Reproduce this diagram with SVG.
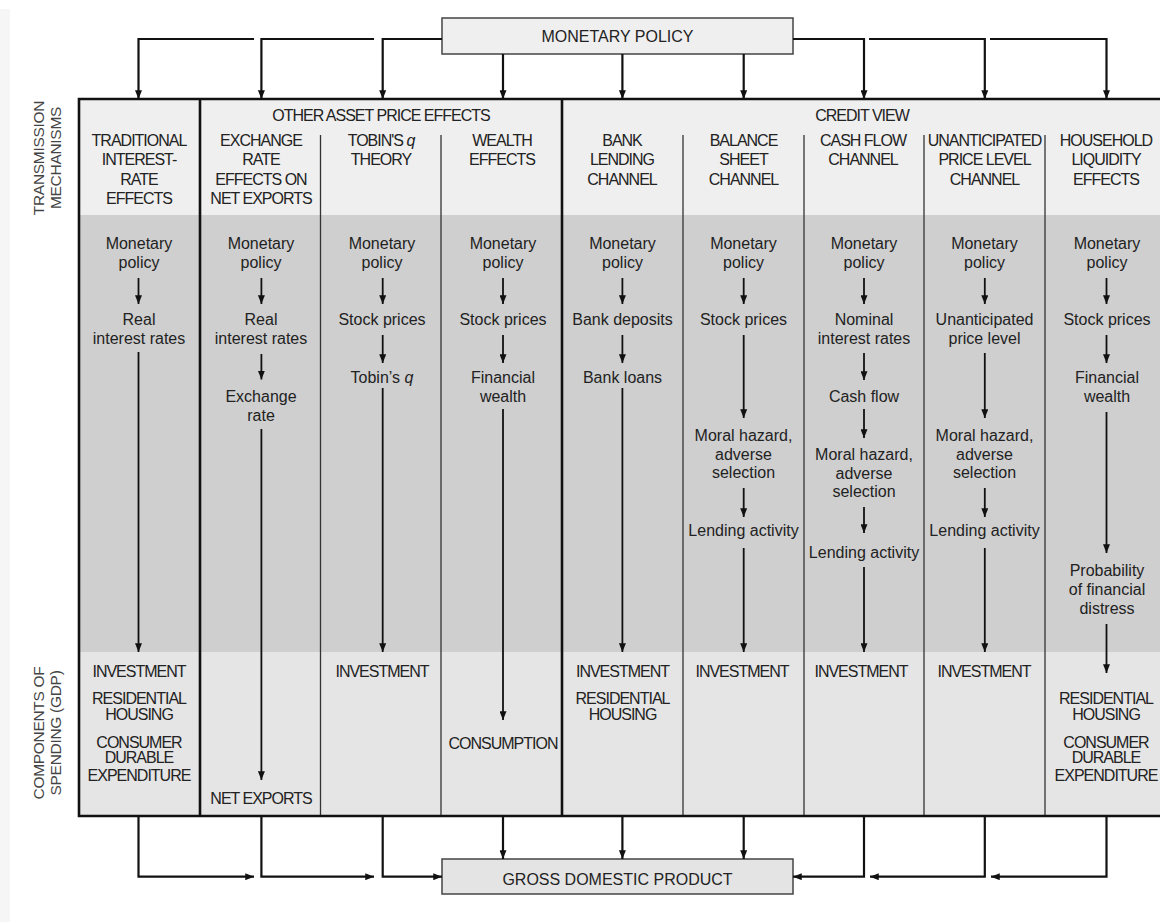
<svg xmlns="http://www.w3.org/2000/svg" width="1160" height="922" viewBox="0 0 1160 922">
<style>
text{font-family:"Liberation Sans",Arial,sans-serif;fill:#222;text-anchor:middle}
.cap{font-size:16px;letter-spacing:-1px}
.low{font-size:16px}
.box{font-size:16px}
.side{font-size:15.5px;fill:#444;letter-spacing:-0.3px}
.conn{fill:none;stroke:#111;stroke-width:2.2}
.step{fill:none;stroke:#111;stroke-width:1.8}
.thin{stroke:#333;stroke-width:1.3}
.thick{stroke:#111;stroke-width:2.6}
</style>
<defs>
<marker id="ah" viewBox="0 0 10 8" refX="10" refY="4" markerWidth="9" markerHeight="7" markerUnits="userSpaceOnUse" orient="auto">
<path d="M0,0 L10,4 L0,8 z" fill="#111"/>
</marker>
</defs>
<rect width="1160" height="922" fill="#fff"/>
<rect x="0" y="9" width="10" height="913" fill="#f6f6f6"/>

<g id="side-labels">
<text class="side" transform="translate(44,158) rotate(-90)">TRANSMISSION</text>
<text class="side" transform="translate(61,158) rotate(-90)">MECHANISMS</text>
<text class="side" transform="translate(44,733) rotate(-90)">COMPONENTS OF</text>
<text class="side" transform="translate(61,733) rotate(-90)">SPENDING (GDP)</text>
</g>

<g id="monetary-policy">
<rect x="442" y="18" width="351" height="36" fill="#efefef" stroke="#444" stroke-width="1.5"/>
<text class="box" x="617.5" y="42">MONETARY POLICY</text>
</g>

<g id="gdp">
<rect x="442" y="859" width="351" height="35" fill="#e4e4e4" stroke="#444" stroke-width="1.5"/>
<text class="box" x="617.5" y="885">GROSS DOMESTIC PRODUCT</text>
</g>

<g id="table">
<rect x="79" y="99" width="1095" height="116" fill="#efefef"/>
<rect x="79" y="215" width="1095" height="437" fill="#cfcfcf"/>
<rect x="79" y="652" width="1095" height="164" fill="#e5e5e5"/>
<line class="thin" x1="320.5" y1="135" x2="320.5" y2="816"/>
<line class="thin" x1="441" y1="135" x2="441" y2="816"/>
<line class="thin" x1="683" y1="135" x2="683" y2="816"/>
<line class="thin" x1="804" y1="135" x2="804" y2="816"/>
<line class="thin" x1="924" y1="135" x2="924" y2="816"/>
<line class="thin" x1="1045" y1="135" x2="1045" y2="816"/>
<line class="thick" x1="200" y1="99" x2="200" y2="816"/>
<line class="thick" x1="562" y1="99" x2="562" y2="816"/>
<path class="thick" fill="none" d="M1175,99 H79 V816 H1175"/>
<text class="cap" x="381" y="121">OTHER ASSET PRICE EFFECTS</text>
<text class="cap" x="862" y="121">CREDIT VIEW</text>
</g>

<g id="col-traditional">
<text class="cap" x="139" y="146">TRADITIONAL<tspan x="139" dy="19.3">INTEREST-</tspan><tspan x="139" dy="19.3">RATE</tspan><tspan x="139" dy="19.3">EFFECTS</tspan></text>
<text class="low" x="139" y="249">Monetary<tspan x="139" dy="18.5">policy</tspan></text>
<text class="low" x="139" y="325">Real<tspan x="139" dy="19.3">interest rates</tspan></text>
<text class="cap" x="139" y="676.5">INVESTMENT</text>
<text class="cap" x="139" y="704">RESIDENTIAL<tspan x="139" dy="15.7">HOUSING</tspan></text>
<text class="cap" x="139" y="747.5">CONSUMER<tspan x="139" dy="15.7">DURABLE</tspan><tspan x="139" dy="17.5">EXPENDITURE</tspan></text>
</g>

<g id="col-exchange">
<text class="cap" x="261" y="146">EXCHANGE<tspan x="261" dy="19.3">RATE</tspan><tspan x="261" dy="19.3">EFFECTS ON</tspan><tspan x="261" dy="19.3">NET EXPORTS</tspan></text>
<text class="low" x="261" y="249">Monetary<tspan x="261" dy="18.5">policy</tspan></text>
<text class="low" x="261" y="325">Real<tspan x="261" dy="19.3">interest rates</tspan></text>
<text class="low" x="261" y="401.5">Exchange<tspan x="261" dy="19">rate</tspan></text>
<text class="cap" x="261" y="804">NET EXPORTS</text>
</g>

<g id="col-tobin">
<text class="cap" x="381" y="146">TOBIN'S <tspan font-style="italic">q</tspan><tspan x="381" dy="19.3">THEORY</tspan></text>
<text class="low" x="382" y="249">Monetary<tspan x="382" dy="18.5">policy</tspan></text>
<text class="low" x="382" y="325">Stock prices</text>
<text class="low" x="382" y="382.5">Tobin’s <tspan font-style="italic">q</tspan></text>
<text class="cap" x="382" y="676.5">INVESTMENT</text>
</g>

<g id="col-wealth">
<text class="cap" x="502" y="146">WEALTH<tspan x="502" dy="19.3">EFFECTS</tspan></text>
<text class="low" x="503" y="249">Monetary<tspan x="503" dy="18.5">policy</tspan></text>
<text class="low" x="503" y="325">Stock prices</text>
<text class="low" x="503" y="382.5">Financial<tspan x="503" dy="19">wealth</tspan></text>
<text class="cap" x="503" y="749">CONSUMPTION</text>
</g>

<g id="col-bank-lending">
<text class="cap" x="622" y="146">BANK<tspan x="622" dy="19.3">LENDING</tspan><tspan x="622" dy="19.3">CHANNEL</tspan></text>
<text class="low" x="622.5" y="249">Monetary<tspan x="622.5" dy="18.5">policy</tspan></text>
<text class="low" x="622.5" y="325">Bank deposits</text>
<text class="low" x="622.5" y="382.5">Bank loans</text>
<text class="cap" x="622.5" y="676.5">INVESTMENT</text>
<text class="cap" x="622.5" y="704">RESIDENTIAL<tspan x="622.5" dy="15.7">HOUSING</tspan></text>
</g>

<g id="col-balance-sheet">
<text class="cap" x="743.5" y="146">BALANCE<tspan x="743.5" dy="19.3">SHEET</tspan><tspan x="743.5" dy="19.3">CHANNEL</tspan></text>
<text class="low" x="743.5" y="249">Monetary<tspan x="743.5" dy="18.5">policy</tspan></text>
<text class="low" x="743.5" y="325">Stock prices</text>
<text class="low" x="743.5" y="441">Moral hazard,<tspan x="743.5" dy="18.5">adverse</tspan><tspan x="743.5" dy="18.5">selection</tspan></text>
<text class="low" x="743.5" y="536">Lending activity</text>
<text class="cap" x="742" y="676.5">INVESTMENT</text>
</g>

<g id="col-cash-flow">
<text class="cap" x="863" y="146">CASH FLOW<tspan x="863" dy="19.3">CHANNEL</tspan></text>
<text class="low" x="864" y="249">Monetary<tspan x="864" dy="18.5">policy</tspan></text>
<text class="low" x="864" y="325">Nominal<tspan x="864" dy="19.3">interest rates</tspan></text>
<text class="low" x="864" y="402">Cash flow</text>
<text class="low" x="864" y="460">Moral hazard,<tspan x="864" dy="18.5">adverse</tspan><tspan x="864" dy="18.5">selection</tspan></text>
<text class="low" x="864" y="557.5">Lending activity</text>
<text class="cap" x="861" y="676.5">INVESTMENT</text>
</g>

<g id="col-unanticipated">
<text class="cap" x="984.5" y="146">UNANTICIPATED<tspan x="984.5" dy="19.3">PRICE LEVEL</tspan><tspan x="984.5" dy="19.3">CHANNEL</tspan></text>
<text class="low" x="984.5" y="249">Monetary<tspan x="984.5" dy="18.5">policy</tspan></text>
<text class="low" x="984.5" y="325">Unanticipated<tspan x="984.5" dy="19.3">price level</tspan></text>
<text class="low" x="984.5" y="441">Moral hazard,<tspan x="984.5" dy="18.5">adverse</tspan><tspan x="984.5" dy="18.5">selection</tspan></text>
<text class="low" x="984.5" y="536">Lending activity</text>
<text class="cap" x="984" y="676.5">INVESTMENT</text>
</g>

<g id="col-household">
<text class="cap" x="1106" y="146">HOUSEHOLD<tspan x="1106" dy="19.3">LIQUIDITY</tspan><tspan x="1106" dy="19.3">EFFECTS</tspan></text>
<text class="low" x="1107" y="249">Monetary<tspan x="1107" dy="18.5">policy</tspan></text>
<text class="low" x="1107" y="325">Stock prices</text>
<text class="low" x="1107" y="382.5">Financial<tspan x="1107" dy="19">wealth</tspan></text>
<text class="low" x="1107" y="576">Probability<tspan x="1107" dy="19">of financial</tspan><tspan x="1107" dy="18.5">distress</tspan></text>
<text class="cap" x="1106" y="704">RESIDENTIAL<tspan x="1106" dy="15.7">HOUSING</tspan></text>
<text class="cap" x="1106" y="747.5">CONSUMER<tspan x="1106" dy="15.7">DURABLE</tspan><tspan x="1106" dy="17.5">EXPENDITURE</tspan></text>
</g>

<g id="connectors">
<path class="conn" marker-end="url(#ah)" d="M254,39 H138.5 V99"/>
<path class="conn" marker-end="url(#ah)" d="M374,39 H261.4 V99"/>
<path class="conn" marker-end="url(#ah)" d="M442,39 H382.7 V99"/>
<path class="conn" marker-end="url(#ah)" d="M503,54 V99"/>
<path class="conn" marker-end="url(#ah)" d="M622.4,54 V99"/>
<path class="conn" marker-end="url(#ah)" d="M743.7,54 V99"/>
<path class="conn" marker-end="url(#ah)" d="M793,39 H864 V99"/>
<path class="conn" marker-end="url(#ah)" d="M869,39 H984.8 V99"/>
<path class="conn" marker-end="url(#ah)" d="M990,39 H1106.5 V99"/>

<path class="step" marker-end="url(#ah)" d="M138.5,278 V304"/>
<path class="step" marker-end="url(#ah)" d="M138.5,352 V652"/>
<path class="step" marker-end="url(#ah)" d="M261.4,278 V304"/>
<path class="step" marker-end="url(#ah)" d="M261.4,354 V379.5"/>
<path class="step" marker-end="url(#ah)" d="M261.4,429 V780"/>
<path class="step" marker-end="url(#ah)" d="M382.7,278 V304"/>
<path class="step" marker-end="url(#ah)" d="M382.7,335 V363"/>
<path class="step" marker-end="url(#ah)" d="M382.7,388 V652"/>
<path class="step" marker-end="url(#ah)" d="M503,278 V304"/>
<path class="step" marker-end="url(#ah)" d="M503,335 V363"/>
<path class="step" marker-end="url(#ah)" d="M503,409 V720"/>
<path class="step" marker-end="url(#ah)" d="M622.4,278 V304"/>
<path class="step" marker-end="url(#ah)" d="M622.4,335 V363"/>
<path class="step" marker-end="url(#ah)" d="M622.4,388 V652"/>
<path class="step" marker-end="url(#ah)" d="M743.7,278 V304"/>
<path class="step" marker-end="url(#ah)" d="M743.7,335 V418"/>
<path class="step" marker-end="url(#ah)" d="M743.7,488 V517"/>
<path class="step" marker-end="url(#ah)" d="M743.7,548 V652"/>
<path class="step" marker-end="url(#ah)" d="M864,278 V304"/>
<path class="step" marker-end="url(#ah)" d="M864,353 V380"/>
<path class="step" marker-end="url(#ah)" d="M864,409 V438"/>
<path class="step" marker-end="url(#ah)" d="M864,507 V533"/>
<path class="step" marker-end="url(#ah)" d="M864,567 V652"/>
<path class="step" marker-end="url(#ah)" d="M984.8,278 V304"/>
<path class="step" marker-end="url(#ah)" d="M984.8,353 V418"/>
<path class="step" marker-end="url(#ah)" d="M984.8,488 V517"/>
<path class="step" marker-end="url(#ah)" d="M984.8,548 V652"/>
<path class="step" marker-end="url(#ah)" d="M1106.5,278 V304"/>
<path class="step" marker-end="url(#ah)" d="M1106.5,335 V363"/>
<path class="step" marker-end="url(#ah)" d="M1106.5,412 V553"/>
<path class="step" marker-end="url(#ah)" d="M1106.5,624 V673"/>

<path class="conn" marker-end="url(#ah)" d="M138.5,816 V876.7 H254"/>
<path class="conn" marker-end="url(#ah)" d="M261.4,816 V876.7 H374"/>
<path class="conn" marker-end="url(#ah)" d="M382.7,816 V876.7 H442"/>
<path class="conn" marker-end="url(#ah)" d="M503,816 V859"/>
<path class="conn" marker-end="url(#ah)" d="M622.4,816 V859"/>
<path class="conn" marker-end="url(#ah)" d="M743.7,816 V859"/>
<path class="conn" marker-end="url(#ah)" d="M864,816 V876.7 H793"/>
<path class="conn" marker-end="url(#ah)" d="M984.8,816 V876.7 H870"/>
<path class="conn" marker-end="url(#ah)" d="M1106.5,816 V876.7 H991"/>
</g>
</svg>
